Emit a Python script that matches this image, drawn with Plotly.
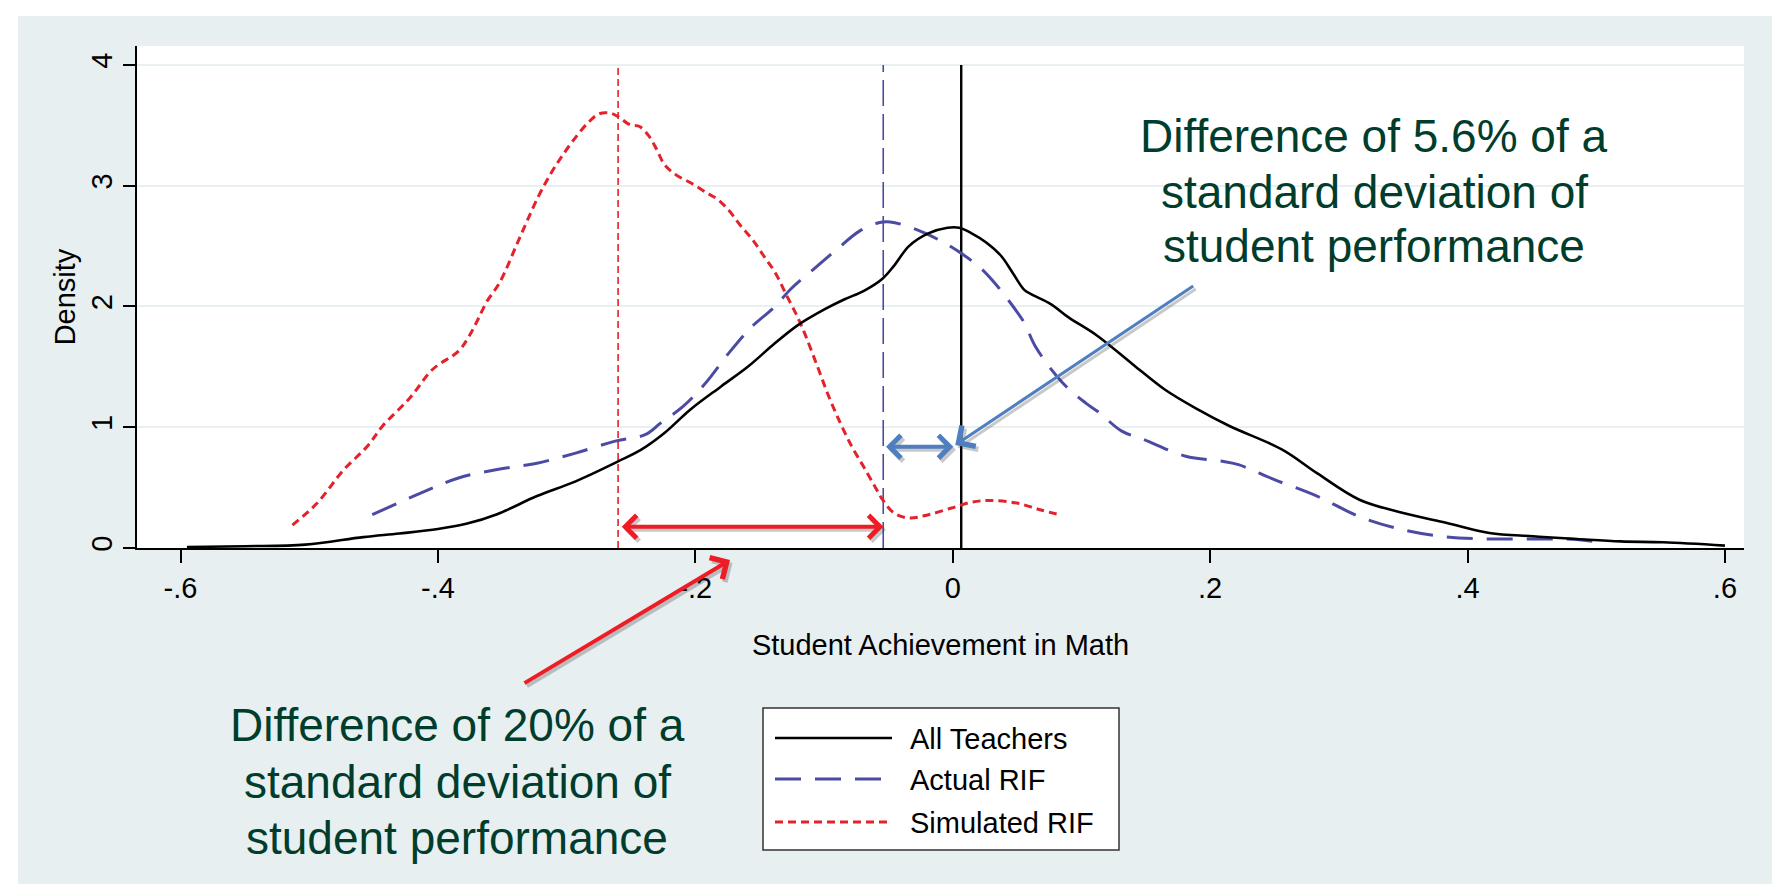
import plotly.graph_objects as go

# ---------------- data ----------------
all_x = [-0.595, -0.55, -0.503, -0.458, -0.43, -0.40, -0.378, -0.354, -0.323, -0.293, -0.26,
         -0.242, -0.224, -0.204, -0.18, -0.159, -0.138, -0.12, -0.099, -0.084, -0.069, -0.0546,
         -0.0457, -0.034, -0.019, -0.004, 0.005, 0.014, 0.026, 0.0375, 0.0465, 0.0554, 0.0613,
         0.0762, 0.09, 0.112, 0.14, 0.165, 0.19, 0.215, 0.256, 0.283, 0.316, 0.35, 0.384, 0.417,
         0.451, 0.485, 0.519, 0.552, 0.60]
all_y = [0.008, 0.015, 0.028, 0.09, 0.12, 0.157, 0.20, 0.28, 0.43, 0.552, 0.717,
         0.814, 0.952, 1.145, 1.338, 1.503, 1.697, 1.848, 1.98, 2.06, 2.13, 2.23,
         2.336, 2.50, 2.605, 2.652, 2.652, 2.61, 2.53, 2.42, 2.28, 2.14, 2.10,
         2.02, 1.91, 1.76, 1.52, 1.31, 1.15, 1.01, 0.815, 0.62, 0.40, 0.29, 0.207, 0.124,
         0.097, 0.075, 0.055, 0.047, 0.02]

actual_x = [-0.451, -0.413, -0.384, -0.354, -0.324, -0.293, -0.263, -0.239, -0.227, -0.2095,
            -0.192, -0.174, -0.156, -0.138, -0.126, -0.108, -0.090, -0.0725, -0.0576, -0.0486,
            -0.0367, -0.022, -0.007, 0.008, 0.0225, 0.0346, 0.0465, 0.0554, 0.0647, 0.0855,
            0.1034, 0.114, 0.131, 0.148, 0.181, 0.208, 0.222, 0.249, 0.283, 0.316, 0.35, 0.384,
            0.417, 0.451, 0.485, 0.502]
actual_y = [0.276, 0.456, 0.58, 0.65, 0.70, 0.786, 0.883, 0.938, 1.034, 1.172,
            1.366, 1.614, 1.834, 2.0, 2.143, 2.31, 2.473, 2.624, 2.693, 2.70,
            2.67, 2.61, 2.53, 2.43, 2.31, 2.17, 2.006, 1.868, 1.66, 1.366,
            1.2, 1.12, 0.97, 0.90, 0.76, 0.72, 0.69, 0.57, 0.43, 0.26, 0.15, 0.091,
            0.075, 0.075, 0.07, 0.047]

sim_x = [-0.513, -0.494, -0.473, -0.455, -0.443, -0.422, -0.404, -0.384, -0.376, -0.369, -0.362,
         -0.352, -0.337, -0.322, -0.312, -0.3045, -0.2954, -0.2835, -0.2746, -0.2656, -0.2597,
         -0.2508, -0.2433, -0.236, -0.23, -0.224, -0.215, -0.203, -0.191, -0.1825, -0.1735,
         -0.1646, -0.1557, -0.1468, -0.1379, -0.129, -0.12, -0.114, -0.105, -0.0963, -0.0873,
         -0.0784, -0.0694, -0.0605, -0.0545, -0.0456, -0.0337, -0.0188, -0.0009, 0.014, 0.0289,
         0.0498, 0.0677, 0.0826]
sim_y = [0.19, 0.37, 0.65, 0.84, 1.01, 1.24, 1.48, 1.63, 1.75, 1.89, 2.04,
         2.198, 2.556, 2.91, 3.106, 3.23, 3.367, 3.52, 3.596, 3.60, 3.57,
         3.505, 3.49, 3.41, 3.30, 3.175, 3.09, 3.02, 2.94, 2.886, 2.79,
         2.666, 2.556, 2.418, 2.28, 2.09, 1.90, 1.75, 1.50, 1.255, 1.034,
         0.84, 0.676, 0.51, 0.40, 0.29, 0.248, 0.276, 0.331, 0.378, 0.394,
         0.372, 0.317, 0.276]

series_names = ["All Teachers", "Actual RIF", "Simulated RIF"]
means = {"All Teachers": 0.0066, "Actual RIF": -0.054, "Simulated RIF": -0.26}
mean_line_top = 4.0

x_ticks = [-0.6, -0.4, -0.2, 0, 0.2, 0.4, 0.6]
x_tick_labels = ["-.6", "-.4", "-.2", "0", ".2", ".4", ".6"]
y_ticks = [0, 1, 2, 3, 4]
y_tick_labels = ["0", "1", "2", "3", "4"]

gap_red = (-0.2583, -0.0538, 0.176)    # x0, x1, y of the 20% difference arrow
gap_blue = (-0.053, 0.0005, 0.839)     # x0, x1, y of the 5.6% difference arrow
blue_pointer = (0.188, 2.178, 0.002, 0.853)  # tail x, tail y, tip x, tip y

note_right = ["Difference of 5.6% of a", "standard deviation of", "student performance"]
note_left = ["Difference of 20% of a", "standard deviation of", "student performance"]

# ---------------- styling ----------------
OFF = 8                 # browser body margin
PAGE_W, PAGE_H = 1780, 895
W, H = PAGE_W - OFF, PAGE_H - OFF
L, R, T, B = 137, 1744, 46, 548   # plot area in page pixels
FONT = "Liberation Sans, Arial, sans-serif"
BLACK = "#000000"
BLUE = "#4b4ba3"
RED = "#e3222b"
GREEN = "#003d2c"
ARROW_RED = "#ee1c25"
ARROW_BLUE = "#4f7fc0"


def px(xp):
    return (xp - L) / (R - L)


def py(yp):
    return (B - yp) / (B - T)


fig = go.Figure()

styles = {
    "All Teachers": dict(color=BLACK, width=2.6, dash="solid"),
    "Actual RIF": dict(color=BLUE, width=3, dash="26px,14px"),
    "Simulated RIF": dict(color=RED, width=3, dash="8px,5px"),
}
vstyles = {
    "All Teachers": dict(color=BLACK, width=2.4, dash="solid"),
    "Actual RIF": dict(color=BLUE, width=1.6, dash="26px,8px"),
    "Simulated RIF": dict(color=RED, width=1.6, dash="7px,4px"),
}
data = {
    "All Teachers": (all_x, all_y),
    "Actual RIF": (actual_x, actual_y),
    "Simulated RIF": (sim_x, sim_y),
}

for name in ["Simulated RIF", "Actual RIF", "All Teachers"]:
    m = means[name]
    fig.add_trace(go.Scatter(x=[m, m], y=[0, mean_line_top], mode="lines",
                             line=vstyles[name], showlegend=False, hoverinfo="skip"))
for name in ["Simulated RIF", "Actual RIF", "All Teachers"]:
    xs, ys = data[name]
    fig.add_trace(go.Scatter(x=xs, y=ys, mode="lines", name=name,
                             line=styles[name], line_shape="spline",
                             showlegend=False))

shapes = []
# outer frame: white border and light panel
shapes.append(dict(type="rect", xref="paper", yref="paper", layer="below",
                   x0=px(0), x1=px(1780), y0=py(895), y1=py(0),
                   fillcolor="#ffffff", line_width=0))
shapes.append(dict(type="rect", xref="paper", yref="paper", layer="below",
                   x0=px(18), x1=px(1775), y0=py(884), y1=py(16),
                   fillcolor="#e8eff1", line_width=0))
shapes.append(dict(type="rect", xref="paper", yref="paper", layer="below",
                   x0=0, x1=1, y0=0, y1=1, fillcolor="#ffffff", line_width=0))

# legend box (manual, to match long sample lines)
LX0, LX1, LY0, LY1 = 763, 1119, 708, 850
shapes.append(dict(type="rect", xref="paper", yref="paper",
                   x0=px(LX0), x1=px(LX1), y0=py(LY1), y1=py(LY0),
                   fillcolor="#ffffff", line=dict(color="#333333", width=1.5)))
row_y = [738, 779, 822]
annotations = []
for name, ry in zip(series_names, row_y):
    st = styles[name]
    shapes.append(dict(type="line", xref="paper", yref="paper",
                       x0=px(775), x1=px(892), y0=py(ry), y1=py(ry),
                       line=dict(color=st["color"], width=st["width"],
                                 dash=st["dash"])))
    annotations.append(dict(xref="paper", yref="paper", x=px(908), y=py(ry + 1),
                            text=name, showarrow=False, xanchor="left",
                            yanchor="middle",
                            font=dict(family=FONT, size=29, color="#000000")))

# text notes
for t, yy in zip(note_right, [136, 192, 246]):
    annotations.append(dict(xref="paper", yref="paper", x=px(1374), y=py(yy),
                            text=t, showarrow=False, xanchor="center", yanchor="middle",
                            font=dict(family=FONT, size=46, color=GREEN)))
for t, yy in zip(note_left, [725, 782, 838]):
    annotations.append(dict(xref="paper", yref="paper", x=px(457), y=py(yy),
                            text=t, showarrow=False, xanchor="center", yanchor="middle",
                            font=dict(family=FONT, size=46, color=GREEN)))


def arrow(x, y, ax, ay, color, width, size, both=False, shadow=False, **kw):
    d = dict(x=x, y=y, ax=ax, ay=ay, text="", showarrow=True,
             arrowhead=4, arrowsize=size, arrowwidth=width, arrowcolor=color,
             standoff=0, startstandoff=0, **kw)
    if both:
        d.update(arrowside="end+start", startarrowhead=4, startarrowsize=size)
    if shadow:
        d.update(arrowcolor="rgba(60,60,60,0.28)", xshift=2.5, yshift=-3)
    return d


# red gap arrow
for sh in (True, False):
    annotations.append(arrow(gap_red[1], gap_red[2], gap_red[0], gap_red[2], ARROW_RED, 4, 1.1,
                             both=True, shadow=sh, xref="x", yref="y", axref="x", ayref="y"))
# blue gap arrow
for sh in (True, False):
    annotations.append(arrow(gap_blue[1], gap_blue[2], gap_blue[0], gap_blue[2], ARROW_BLUE, 4, 1.1,
                             both=True, shadow=sh, xref="x", yref="y", axref="x", ayref="y"))
# blue pointer
for sh in (True, False):
    annotations.append(arrow(blue_pointer[2], blue_pointer[3], blue_pointer[0], blue_pointer[1],
                             ARROW_BLUE, 3, 1.6, shadow=sh,
                             xref="x", yref="y", axref="x", ayref="y"))
# red pointer (tip just below the axis, so positioned in paper space)
for sh in (True, False):
    annotations.append(arrow(px(730), py(560), 523 - 730, 684 - 560, ARROW_RED, 4, 1.2,
                             shadow=sh, xref="paper", yref="paper", axref="pixel", ayref="pixel"))

fig.update_layout(
    width=W, height=H, autosize=False,
    margin=dict(l=L - OFF, r=PAGE_W - R, t=T - OFF, b=PAGE_H - B, pad=0),
    paper_bgcolor="#e9eef0", plot_bgcolor="#ffffff",
    showlegend=False,
    shapes=shapes, annotations=annotations,
    font=dict(family=FONT, size=29, color="#000000"),
    xaxis=dict(range=[-0.6338, 0.6148], tickvals=x_ticks, ticktext=x_tick_labels,
               showgrid=False, zeroline=False, showline=True, linecolor="#000000", linewidth=1.5,
               ticks="outside", ticklen=13, tickwidth=1.5, tickcolor="#000000",
               tickfont=dict(family=FONT, size=29),
               title=dict(text="Student Achievement in Math", font=dict(family=FONT, size=29),
                          standoff=32)),
    yaxis=dict(range=[0, 4.157], tickvals=y_ticks, ticktext=y_tick_labels,
               showgrid=True, gridcolor="#e8f0f2", gridwidth=2, zeroline=False,
               showline=True, linecolor="#000000", linewidth=1.5,
               ticks="outside", ticklen=12, tickwidth=1.5, tickcolor="#000000",
               tickangle=-90, tickfont=dict(family=FONT, size=29),
               title=dict(text="Density", font=dict(family=FONT, size=29), standoff=2)),
)

fig.write_html("out.html")
